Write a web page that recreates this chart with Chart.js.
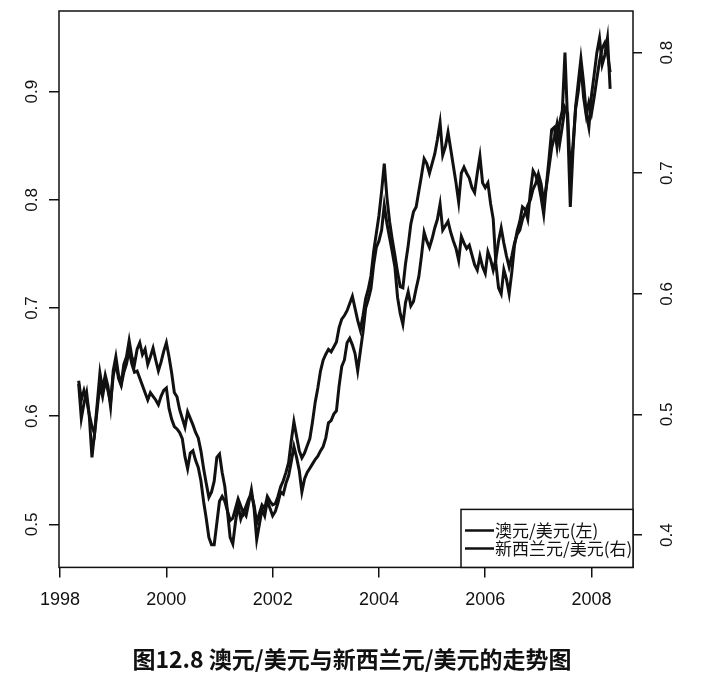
<!DOCTYPE html>
<html>
<head>
<meta charset="utf-8">
<title>澳元/美元与新西兰元/美元的走势图</title>
<script src="https://cdn.jsdelivr.net/npm/chart.js@4/dist/chart.umd.min.js"></script>
<style>
  html, body { margin: 0; padding: 0; background: #fff; }
  canvas { display: block; }
</style>
</head>
<body>
<canvas id="fxChart" width="704" height="679"></canvas>
<script>
// sampling grid: every 0.05 year starting at 1998.35
const startYear = 1998.35;
const stepYear = 0.05;

const xTickValues = [1998, 2000, 2002, 2004, 2006, 2008];
const leftTickValues = [0.5, 0.6, 0.7, 0.8, 0.9];
const rightTickValues = [0.4, 0.5, 0.6, 0.7, 0.8];
const seriesNames = ["澳元/美元(左)", "新西兰元/美元(右)"];
const captionText = "图12.8 澳元/美元与新西兰元/美元的走势图";

// AUD/USD, left axis
const audUsd = [
  0.630, 0.598, 0.612, 0.622, 0.600, 0.562, 0.585, 0.612, 0.640, 0.625,
  0.638, 0.628, 0.609, 0.642, 0.655, 0.638, 0.630, 0.648, 0.655, 0.670,
  0.655, 0.648, 0.662, 0.668, 0.657, 0.662, 0.648, 0.655, 0.663, 0.652,
  0.642, 0.650, 0.660, 0.668, 0.655, 0.640, 0.622, 0.618, 0.606, 0.598,
  0.590, 0.604, 0.598, 0.592, 0.585, 0.580, 0.568, 0.552, 0.538, 0.525,
  0.530, 0.540, 0.562, 0.565, 0.548, 0.535, 0.512, 0.488, 0.482, 0.502,
  0.518, 0.505, 0.512, 0.508, 0.520, 0.532, 0.515, 0.486, 0.500, 0.514,
  0.508, 0.522, 0.515, 0.508, 0.512, 0.520, 0.530, 0.528, 0.538, 0.545,
  0.558, 0.572, 0.562, 0.550, 0.530, 0.542, 0.548, 0.552, 0.556, 0.560,
  0.563, 0.568, 0.572, 0.580, 0.594, 0.596, 0.602, 0.605, 0.628, 0.646,
  0.652, 0.668, 0.672, 0.666, 0.658, 0.642, 0.660, 0.678, 0.700, 0.708,
  0.718, 0.740, 0.756, 0.762, 0.772, 0.795, 0.778, 0.765, 0.752, 0.738,
  0.710, 0.695, 0.685, 0.705, 0.715, 0.702, 0.706, 0.718, 0.729, 0.748,
  0.770, 0.762, 0.756, 0.764, 0.774, 0.782, 0.796, 0.772, 0.776, 0.780,
  0.770, 0.762, 0.755, 0.744, 0.766, 0.760, 0.755, 0.758, 0.749, 0.740,
  0.735, 0.748, 0.738, 0.732, 0.752, 0.745, 0.735, 0.745, 0.762, 0.774,
  0.760, 0.748, 0.738, 0.748, 0.760, 0.768, 0.772, 0.782, 0.788, 0.795,
  0.800, 0.810, 0.815, 0.824, 0.815, 0.798, 0.812, 0.830, 0.848, 0.858,
  0.870, 0.852, 0.868, 0.885, 0.880, 0.825,
  0.850, 0.884, 0.900, 0.925, 0.895, 0.878, 0.890, 0.880, 0.895, 0.912,
  0.928, 0.940, 0.945, 0.935, 0.918
];

// NZD/USD, right axis
const nzdUsd = [
  0.528, 0.512, 0.520, 0.512, 0.500, 0.490, 0.484, 0.505, 0.525, 0.515,
  0.528, 0.520, 0.510, 0.532, 0.543, 0.530, 0.524, 0.535, 0.542, 0.553,
  0.542, 0.535, 0.536, 0.530, 0.524, 0.518, 0.512, 0.518, 0.515, 0.512,
  0.508, 0.515, 0.520, 0.522, 0.505, 0.496, 0.490, 0.488, 0.485, 0.480,
  0.465, 0.455, 0.468, 0.470, 0.462, 0.456, 0.445, 0.428, 0.414, 0.398,
  0.392, 0.392, 0.410, 0.428, 0.432, 0.428, 0.420, 0.412, 0.414, 0.422,
  0.430, 0.424, 0.418, 0.424, 0.430, 0.434, 0.425, 0.410, 0.418, 0.425,
  0.422, 0.432, 0.428, 0.425, 0.426, 0.432, 0.440, 0.445, 0.452, 0.460,
  0.478, 0.494, 0.482, 0.470, 0.464, 0.468, 0.474, 0.480, 0.494, 0.510,
  0.522, 0.536, 0.545, 0.550, 0.554, 0.552, 0.556, 0.560, 0.572, 0.579,
  0.582, 0.586, 0.592, 0.598, 0.588, 0.578, 0.570, 0.582, 0.596, 0.604,
  0.615, 0.635, 0.650, 0.665, 0.685, 0.708, 0.680, 0.660, 0.645, 0.632,
  0.618, 0.606, 0.605, 0.625, 0.640, 0.658, 0.668, 0.672, 0.685, 0.698,
  0.712, 0.708, 0.700, 0.708, 0.716, 0.728, 0.742, 0.715, 0.722, 0.734,
  0.720, 0.706, 0.692, 0.676, 0.700, 0.705, 0.700, 0.696, 0.688, 0.684,
  0.700, 0.714, 0.692, 0.688, 0.692, 0.675, 0.662, 0.625, 0.605, 0.600,
  0.620, 0.612, 0.600, 0.618, 0.640, 0.652, 0.660, 0.672, 0.670, 0.662,
  0.685, 0.702, 0.698, 0.692, 0.680, 0.666, 0.690, 0.712, 0.736, 0.738,
  0.722, 0.742, 0.752, 0.800, 0.742, 0.672,
  0.718, 0.755, 0.775, 0.795, 0.775, 0.750, 0.738, 0.765, 0.782, 0.800,
  0.812, 0.790, 0.798, 0.812, 0.770
];

const dates = audUsd.map((_, i) => +(startYear + i * stepYear).toFixed(2));
const toPoints = (vals) => vals.map((v, i) => ({ x: dates[i], y: v }));

const ink = "#111";
const numFont = "'Liberation Sans', Arial, sans-serif";
const cjkFont = "'Noto Sans CJK SC', 'Noto Sans', sans-serif";

// frame, rotated y labels and the boxed legend
const framePlugin = {
  id: "frame",
  afterDraw(chart) {
    const { ctx, chartArea: a } = chart;
    ctx.save();
    ctx.strokeStyle = ink;
    ctx.lineWidth = 1.5;
    ctx.strokeRect(a.left, a.top, a.right - a.left, a.bottom - a.top);

    ctx.fillStyle = ink;
    ctx.font = `17px ${numFont}`;
    ctx.textAlign = "center";
    ctx.textBaseline = "middle";
    const drawRotated = (scale, x) => {
      scale.ticks.forEach((t) => {
        const y = scale.getPixelForValue(t.value);
        ctx.save();
        ctx.translate(x, y);
        ctx.rotate(-Math.PI / 2);
        ctx.fillText(t.value.toFixed(1), 0, 0);
        ctx.restore();
      });
    };
    drawRotated(chart.scales.yLeft, 32);
    drawRotated(chart.scales.yRight, a.right + 34);

    // legend box in the bottom right corner
    const lw = 172, lh = 58;
    const lx = a.right - lw, ly = a.bottom - lh;
    ctx.fillStyle = "#fff";
    ctx.fillRect(lx, ly, lw, lh);
    ctx.strokeRect(lx, ly, lw, lh);
    ctx.beginPath();
    ctx.rect(lx, ly, lw, lh);
    ctx.clip();
    ctx.font = `17px ${cjkFont}`;
    ctx.textAlign = "left";
    ctx.fillStyle = ink;
    seriesNames.forEach((name, i) => {
      const y = ly + 21 + i * 18;
      ctx.lineWidth = 2.5;
      ctx.beginPath();
      ctx.moveTo(lx + 4, y);
      ctx.lineTo(lx + 33, y);
      ctx.stroke();
      ctx.fillText(name, lx + 34, y);
    });
    ctx.restore();
  },
};

const lineStyle = {
  borderColor: ink,
  borderWidth: 3,
  pointRadius: 0,
  tension: 0,
  fill: false,
};

new Chart(document.getElementById("fxChart"), {
  type: "line",
  data: {
    datasets: [
      { label: seriesNames[0], data: toPoints(audUsd), yAxisID: "yLeft", ...lineStyle },
      { label: seriesNames[1], data: toPoints(nzdUsd), yAxisID: "yRight", ...lineStyle },
    ],
  },
  options: {
    responsive: false,
    animation: false,
    devicePixelRatio: 1,
    layout: { padding: { top: 11, left: 0, right: 0, bottom: 0 } },
    plugins: {
      legend: { display: false },
      tooltip: { enabled: false },
      title: {
        display: true,
        position: "bottom",
        text: captionText,
        color: ink,
        font: { family: cjkFont, size: 23, weight: "bold" },
        padding: { top: 18, bottom: 6 },
      },
    },
    scales: {
      x: {
        type: "linear",
        min: 1997.98,
        max: 2008.78,
        afterBuildTicks: (s) => { s.ticks = xTickValues.map((v) => ({ value: v })); },
        afterFit: (s) => { s.height = 60; },
        border: { display: false },
        grid: { drawOnChartArea: false, drawTicks: true, tickLength: 10, color: ink, lineWidth: 1.5 },
        ticks: {
          autoSkip: false,
          maxRotation: 0,
          padding: 12,
          color: ink,
          font: { family: numFont, size: 18 },
          callback: (v) => String(v),
        },
      },
      yLeft: {
        type: "linear",
        position: "left",
        min: 0.4603,
        max: 0.9745,
        afterBuildTicks: (s) => { s.ticks = leftTickValues.map((v) => ({ value: v })); },
        afterFit: (s) => { s.width = 59; },
        border: { display: false },
        grid: { drawOnChartArea: false, drawTicks: true, tickLength: 10, color: ink, lineWidth: 1.5 },
        ticks: { display: false },
      },
      yRight: {
        type: "linear",
        position: "right",
        min: 0.3732,
        max: 0.8345,
        afterBuildTicks: (s) => { s.ticks = rightTickValues.map((v) => ({ value: v })); },
        afterFit: (s) => { s.width = 71; },
        border: { display: false },
        grid: { drawOnChartArea: false, drawTicks: true, tickLength: 9, color: ink, lineWidth: 1.5 },
        ticks: { display: false },
      },
    },
  },
  plugins: [framePlugin],
});
</script>
</body>
</html>
